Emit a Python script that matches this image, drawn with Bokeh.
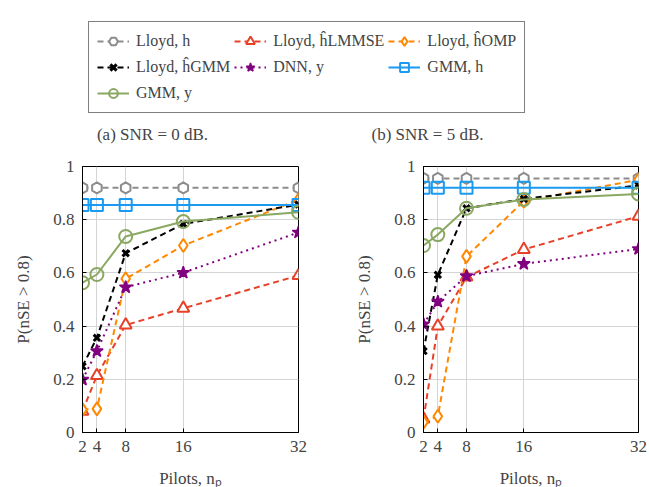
from bokeh.plotting import figure
from bokeh.models import Range1d, FixedTicker, Legend, LegendItem, Label, ColumnDataSource
from bokeh.layouts import column, row
from bokeh.embed import file_html
from bokeh.resources import INLINE

pilots = [2, 4, 8, 16, 32]
x_ticks = [2, 4, 8, 16, 32]
y_ticks = [0, 0.2, 0.4, 0.6, 0.8, 1]

labels = ["Lloyd, h", "Lloyd, ĥLMMSE", "Lloyd, ĥOMP", "Lloyd, ĥGMM",
          "DNN, y", "GMM, h", "GMM, y"]

# (a) SNR = 0 dB
a_lloyd_h = [0.92, 0.92, 0.92, 0.92, 0.92]
a_lloyd_lmmse = [0.08, 0.214, 0.404, 0.467, 0.59]
a_lloyd_omp = [0.086, 0.089, 0.578, 0.703, 0.875]
a_lloyd_gmm = [0.249, 0.356, 0.674, 0.784, 0.857]
a_dnn_y = [0.199, 0.306, 0.546, 0.601, 0.752]
a_gmm_h = [0.855, 0.855, 0.855, 0.855, 0.855]
a_gmm_y = [0.563, 0.594, 0.737, 0.793, 0.828]

# (b) SNR = 5 dB
b_lloyd_h = [0.955, 0.955, 0.955, 0.955, 0.955]
b_lloyd_lmmse = [0.051, 0.40, 0.584, 0.688, 0.813]
b_lloyd_omp = [0.039, 0.061, 0.662, 0.87, 0.95]
b_lloyd_gmm = [0.306, 0.593, 0.843, 0.878, 0.929]
b_dnn_y = [0.407, 0.492, 0.588, 0.634, 0.69]
b_gmm_h = [0.92, 0.92, 0.92, 0.92, 0.92]
b_gmm_y = [0.703, 0.744, 0.843, 0.876, 0.897]

data_a = [a_lloyd_h, a_lloyd_lmmse, a_lloyd_omp, a_lloyd_gmm, a_dnn_y, a_gmm_h, a_gmm_y]
data_b = [b_lloyd_h, b_lloyd_lmmse, b_lloyd_omp, b_lloyd_gmm, b_dnn_y, b_gmm_h, b_gmm_y]

FONT = "Liberation Serif"
styles = [
    dict(color="#8c8c8c", dash="6 4", marker="hex", fill="white", size=11, angle=0.5236, lw=2),
    dict(color="#e8412a", dash="6 4", marker="triangle", fill="white", size=12, angle=0, lw=2),
    dict(color="#ff8800", dash="6 4", marker="diamond", fill="white", size=13, angle=0, lw=2),
    dict(color="#000000", dash="6 4", marker="x", fill="#000000", size=9, angle=0, lw=3),
    dict(color="#800080", dash="2 4", marker="star", fill="#800080", size=13, angle=0, lw=1.5),
    dict(color="#1a9af0", dash="solid", marker="square", fill=None, size=12, angle=0, lw=2),
    dict(color="#8aa862", dash="solid", marker="circle", fill=None, size=13, angle=0, lw=2),
]


def draw(p, xs, ys, st):
    src = ColumnDataSource(dict(x=xs, y=ys))
    ln = p.line("x", "y", source=src, line_color=st["color"], line_width=2,
                line_dash=st["dash"])
    kw = dict(line_color=st["color"], line_width=st["lw"], size=st["size"], angle=st["angle"])
    if st["fill"] is None:
        kw["fill_alpha"] = 0
    else:
        kw["fill_color"] = st["fill"]
    sc = p.scatter("x", "y", source=src, marker=st["marker"], **kw)
    return [ln, sc]


def panel(data, left, right, fw):
    p = figure(frame_width=fw, frame_height=266, min_border_left=left,
               min_border_right=right, min_border_top=16, min_border_bottom=55,
               x_range=Range1d(2, 32), y_range=Range1d(0, 1),
               output_backend="svg", toolbar_location=None)
    p.outline_line_color = "black"
    p.outline_line_width = 1
    p.xaxis.ticker = FixedTicker(ticks=x_ticks)
    p.yaxis.ticker = FixedTicker(ticks=y_ticks)
    p.yaxis.major_label_overrides = {0: "0", 1: "1"}
    for ax in p.axis:
        ax.major_label_text_font = FONT
        ax.major_label_text_font_size = "17px"
        ax.axis_label_text_font = FONT
        ax.axis_label_text_font_size = "17px"
        ax.axis_label_text_font_style = "normal"
        ax.major_tick_in = 4
        ax.major_tick_out = 0
        ax.minor_tick_line_color = None
        ax.major_label_standoff = 8
        ax.axis_line_color = "black"
    p.xaxis.axis_label_standoff = 14
    p.yaxis.axis_label_standoff = 17
    p.xaxis.axis_label = "Pilots, nₚ"
    p.yaxis.axis_label = "P(nSE > 0.8)"
    p.grid.grid_line_color = "#d4d4d4"
    p.grid.grid_line_width = 1
    for ys, st in zip(data, styles):
        draw(p, pilots, ys, st)
    return p


pa = panel(data_a, 82, 42, 216)
pb = panel(data_b, 83, 11, 215)

# legend / caption strip: series drawn off-screen (x range starts past the data)
top = figure(width=649, height=150, x_range=Range1d(100, 749), y_range=Range1d(150, 0),
             x_axis_type=None, y_axis_type=None, min_border=0,
             output_backend="svg", toolbar_location=None)
top.outline_line_color = None
top.grid.visible = False
items = []
for lab, ys, st in zip(labels, data_a, styles):
    rs = draw(top, pilots, ys, st)
    items.append(LegendItem(label=lab, renderers=rs))
leg = Legend(items=items, ncols=3, orientation="horizontal", location=(88, 37),
             label_text_font=FONT, label_text_font_size="16px",
             glyph_width=32, glyph_height=22, label_height=22, label_width=40,
             label_standoff=7, spacing=4, padding=8, margin=0,
             border_line_color="black", border_line_width=1.5,
             background_fill_color="white")
top.add_layout(leg, "center")

top.add_layout(Label(x=152, y=16, x_units="screen", y_units="screen",
                     text="(a) SNR = 0 dB.", text_align="center",
                     text_baseline="middle", text_font=FONT, text_font_size="17px"))
top.add_layout(Label(x=427, y=16, x_units="screen", y_units="screen",
                     text="(b) SNR = 5 dB.", text_align="center",
                     text_baseline="middle", text_font=FONT, text_font_size="17px"))

layout = column(top, row(pa, pb, spacing=0), spacing=0)
open("out.html", "w").write(file_html(layout, INLINE))
